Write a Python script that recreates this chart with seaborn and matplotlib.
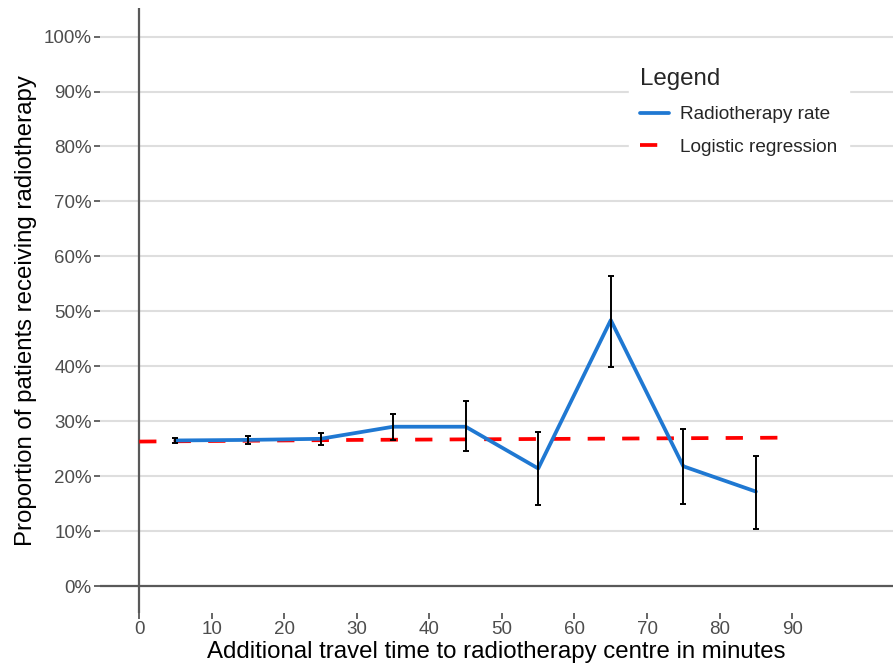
import numpy as np
import pandas as pd
import seaborn as sns
import matplotlib.pyplot as plt
from matplotlib.lines import Line2D

# observed radiotherapy rate per 10-minute band (midpoints), in %
travel_time = [5, 15, 25, 35, 45, 55, 65, 75, 85]
rate = [26.5, 26.6, 26.8, 29.0, 29.0, 21.4, 48.4, 21.8, 17.2]
ci_low = [26.0, 25.9, 25.7, 26.5, 24.5, 14.8, 39.9, 15.0, 10.4]
ci_high = [27.0, 27.4, 27.9, 31.4, 33.6, 28.0, 56.4, 28.5, 23.7]

# fitted logistic regression curve
fit_time = [0, 30, 60, 88]
fit_rate = [26.3, 26.6, 26.8, 27.0]

y_ticks = list(range(0, 101, 10))
x_ticks = list(range(0, 91, 10))

sns.set_theme(style="white")
plt.rcParams['font.family'] = ['Liberation Sans', 'DejaVu Sans']

obs = pd.DataFrame({'time': travel_time, 'rate': rate, 'lo': ci_low, 'hi': ci_high})
fit = pd.DataFrame({'time': fit_time, 'rate': fit_rate})

fig = plt.figure(figsize=(8.93, 6.70), dpi=100)
ax = fig.add_axes([100 / 893, 57 / 670, 793 / 893, 605 / 670])

grey = '#595959'
for t in y_ticks[1:]:
    ax.axhline(t, color='#dedede', lw=1.5, zorder=0)
ax.axhline(0, color=grey, lw=1.6, zorder=1)
ax.axvline(0, color=grey, lw=1.6, zorder=1)

lw = 2.7
sns.lineplot(data=fit, x='time', y='rate', ax=ax, color='#ff0000', lw=lw,
             zorder=3, legend=False)
ax.lines[-1].set_dashes((4.6, 4.6))
sns.lineplot(data=obs, x='time', y='rate', ax=ax, color='#1f78d2', lw=lw,
             zorder=4, legend=False)
ax.errorbar(obs['time'], obs['rate'],
            yerr=[obs['rate'] - obs['lo'], obs['hi'] - obs['rate']],
            fmt='none', ecolor='black', elinewidth=1.4, capsize=2.5,
            capthick=1.4, zorder=5)

ax.set_xlim(-5.4, 103.9)
ax.set_ylim(-4.9, 105.2)
ax.set_xticks(x_ticks)
ax.set_yticks(y_ticks)
ax.set_yticklabels([f'{t}%' for t in y_ticks])
for s in ax.spines.values():
    s.set_visible(False)
ax.tick_params(axis='both', which='both', length=4, width=1.3, color=grey,
               labelcolor='#4d4d4d', labelsize=13.5, pad=2, bottom=True, left=True)

ax.set_xlabel('Additional travel time to radiotherapy centre in minutes',
              fontsize=17.3, color='black', labelpad=2)
ax.set_ylabel('Proportion of patients receiving radiotherapy',
              fontsize=17.3, color='black', labelpad=5)

handles = [Line2D([], [], color='#1f78d2', lw=lw),
           Line2D([], [], color='#ff0000', lw=lw, dashes=(4.6, 20))]
leg = ax.legend(handles, ['Radiotherapy rate', 'Logistic regression'],
                title='Legend', loc='upper left', bbox_to_anchor=(0.655, 0.935),
                fontsize=13.7, title_fontsize=17.4, frameon=True, handlelength=1.5,
                handletextpad=0.6, borderpad=0.6, labelspacing=0.82)
leg.get_frame().set_edgecolor('white')
leg.get_frame().set_facecolor('white')
leg.get_frame().set_alpha(1)
leg._legend_box.align = 'left'

fig.savefig('out.png', dpi=100)
